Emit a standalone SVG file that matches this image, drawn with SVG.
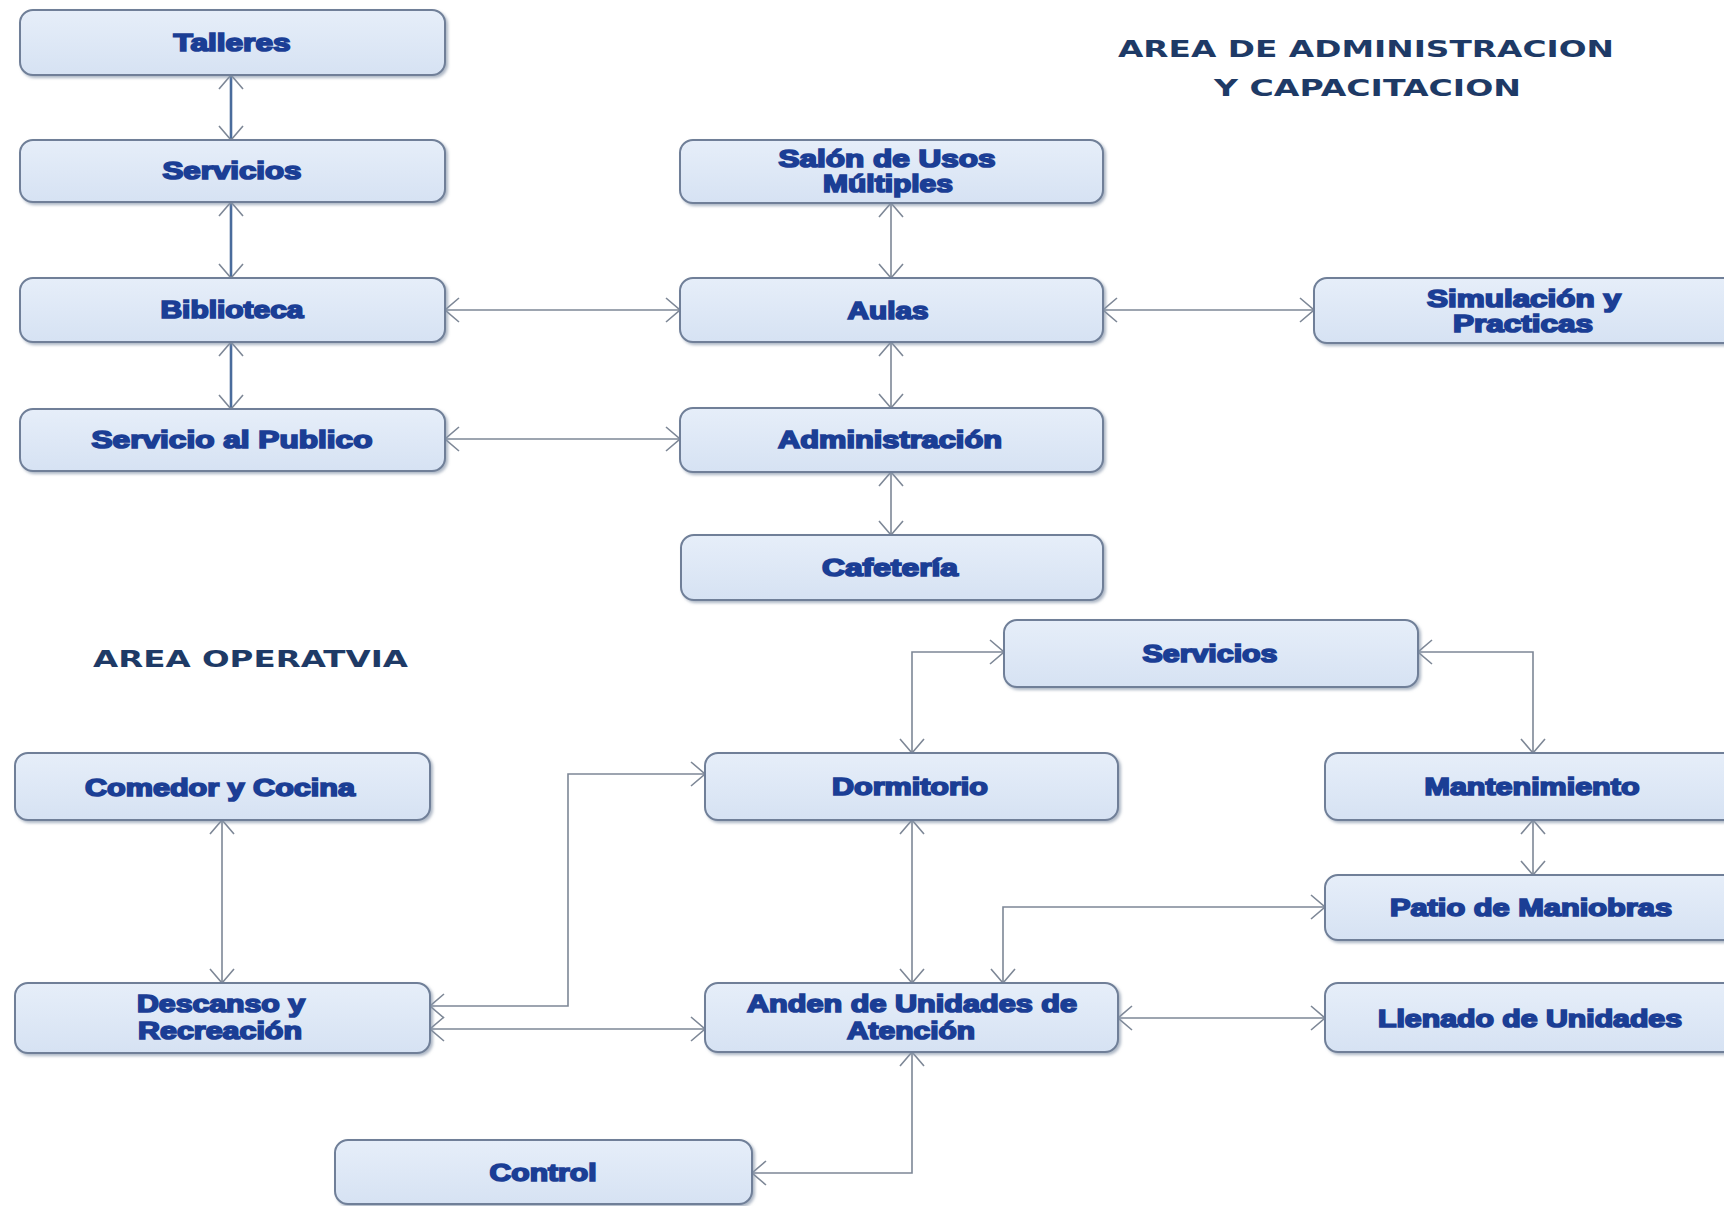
<svg xmlns="http://www.w3.org/2000/svg" width="1724" height="1206" viewBox="0 0 1724 1206">
<defs>
<style>
.box{fill:url(#g);stroke:#6f7f98;stroke-width:2;filter:url(#sh)}
.t{font-family:"Liberation Sans",Arial,sans-serif;font-weight:bold;font-size:24px;fill:#1b3e95;stroke:#1b3e95;stroke-width:1.7;text-anchor:middle}
.h{font-family:"DejaVu Sans",Verdana,sans-serif;font-weight:bold;font-size:23px;fill:#1e3a66}
.c{fill:none;stroke:#7d8796;stroke-width:1.6;marker-start:url(#a);marker-end:url(#a)}
.cb{fill:none;stroke:#4a6c9c;stroke-width:2.6;marker-start:url(#a);marker-end:url(#a)}
</style>
<linearGradient id="g" x1="0" y1="0" x2="0" y2="1">
<stop offset="0" stop-color="#e6eef9"/>
<stop offset="1" stop-color="#d6e2f3"/>
</linearGradient>
<filter id="sh" x="-5%" y="-20%" width="110%" height="150%">
<feDropShadow dx="2" dy="2" stdDeviation="1.5" flood-color="#8896ab" flood-opacity="0.7"/>
</filter>
<marker id="a" viewBox="0 0 16 28" refX="15" refY="14" markerWidth="16" markerHeight="28" markerUnits="userSpaceOnUse" orient="auto-start-reverse">
<path d="M1,2 L15,14 L1,26" fill="none" stroke="#7d8796" stroke-width="1.6"/>
</marker>
</defs>
<rect width="1724" height="1206" fill="#ffffff"/>

<g id="titles">
<text class="h" x="1118" y="57" textLength="496" lengthAdjust="spacingAndGlyphs">AREA DE ADMINISTRACION</text>
<text class="h" x="1214" y="96" textLength="307" lengthAdjust="spacingAndGlyphs">Y CAPACITACION</text>
<text class="h" x="93" y="667" textLength="315" lengthAdjust="spacingAndGlyphs">AREA OPERATVIA</text>
</g>

<g id="connectors">
<path class="cb" d="M231,75 V140"/>
<path class="cb" d="M231,202 V278"/>
<path class="cb" d="M231,342 V409"/>
<path class="c" d="M445,310 H680"/>
<path class="c" d="M445,439 H680"/>
<path class="c" d="M891,203 V278"/>
<path class="c" d="M891,342 V408"/>
<path class="c" d="M891,472 V535"/>
<path class="c" d="M1103,310 H1314"/>
<path class="c" d="M222,820 V983"/>
<path class="c" d="M430,1006 H568 V774 H705"/>
<path class="c" d="M430,1029 H705"/>
<path class="c" d="M1004,652 H912 V753"/>
<path class="c" d="M1418,652 H1533 V753"/>
<path class="c" d="M912,820 V983"/>
<path class="c" d="M1533,820 V875"/>
<path class="c" d="M1325,907 H1003 V983"/>
<path class="c" d="M1118,1018 H1325"/>
<path class="c" d="M752,1173 H912 V1052"/>
</g>

<g id="talleres"><rect class="box" x="20" y="10" width="425" height="65" rx="13"/><text class="t" x="232" y="51" textLength="117" lengthAdjust="spacingAndGlyphs">Talleres</text></g>
<g id="servicios-admin"><rect class="box" x="20" y="140" width="425" height="62" rx="13"/><text class="t" x="232" y="179" textLength="139" lengthAdjust="spacingAndGlyphs">Servicios</text></g>
<g id="biblioteca"><rect class="box" x="20" y="278" width="425" height="64" rx="13"/><text class="t" x="232" y="318" textLength="143" lengthAdjust="spacingAndGlyphs">Biblioteca</text></g>
<g id="servicio-publico"><rect class="box" x="20" y="409" width="425" height="62" rx="13"/><text class="t" x="232" y="448" textLength="281" lengthAdjust="spacingAndGlyphs">Servicio al Publico</text></g>

<g id="salon"><rect class="box" x="680" y="140" width="423" height="63" rx="13"/><text class="t" x="887" y="167" textLength="217" lengthAdjust="spacingAndGlyphs">Salón de Usos</text><text class="t" x="888" y="192" textLength="130" lengthAdjust="spacingAndGlyphs">Múltiples</text></g>
<g id="aulas"><rect class="box" x="680" y="278" width="423" height="64" rx="13"/><text class="t" x="888" y="319" textLength="81" lengthAdjust="spacingAndGlyphs">Aulas</text></g>
<g id="administracion"><rect class="box" x="680" y="408" width="423" height="64" rx="13"/><text class="t" x="890" y="448" textLength="224" lengthAdjust="spacingAndGlyphs">Administración</text></g>
<g id="cafeteria"><rect class="box" x="681" y="535" width="422" height="65" rx="13"/><text class="t" x="890" y="576" textLength="136" lengthAdjust="spacingAndGlyphs">Cafetería</text></g>
<g id="simulacion"><rect class="box" x="1314" y="278" width="430" height="65" rx="13"/><text class="t" x="1524" y="307" textLength="194" lengthAdjust="spacingAndGlyphs">Simulación  y</text><text class="t" x="1523" y="332" textLength="140" lengthAdjust="spacingAndGlyphs">Practicas</text></g>

<g id="comedor"><rect class="box" x="15" y="753" width="415" height="67" rx="13"/><text class="t" x="220" y="796" textLength="270" lengthAdjust="spacingAndGlyphs">Comedor  y Cocina</text></g>
<g id="descanso"><rect class="box" x="15" y="983" width="415" height="70" rx="13"/><text class="t" x="221" y="1012" textLength="168" lengthAdjust="spacingAndGlyphs">Descanso  y</text><text class="t" x="220" y="1039" textLength="164" lengthAdjust="spacingAndGlyphs">Recreación</text></g>
<g id="servicios-oper"><rect class="box" x="1004" y="620" width="414" height="67" rx="13"/><text class="t" x="1210" y="662" textLength="135" lengthAdjust="spacingAndGlyphs">Servicios</text></g>
<g id="dormitorio"><rect class="box" x="705" y="753" width="413" height="67" rx="13"/><text class="t" x="910" y="795" textLength="156" lengthAdjust="spacingAndGlyphs">Dormitorio</text></g>
<g id="mantenimiento"><rect class="box" x="1325" y="753" width="415" height="67" rx="13"/><text class="t" x="1532" y="795" textLength="215" lengthAdjust="spacingAndGlyphs">Mantenimiento</text></g>
<g id="patio"><rect class="box" x="1325" y="875" width="415" height="65" rx="13"/><text class="t" x="1531" y="916" textLength="282" lengthAdjust="spacingAndGlyphs">Patio de Maniobras</text></g>
<g id="anden"><rect class="box" x="705" y="983" width="413" height="69" rx="13"/><text class="t" x="912" y="1012" textLength="330" lengthAdjust="spacingAndGlyphs">Anden de Unidades  de</text><text class="t" x="911" y="1039" textLength="128" lengthAdjust="spacingAndGlyphs">Atención</text></g>
<g id="llenado"><rect class="box" x="1325" y="983" width="415" height="69" rx="13"/><text class="t" x="1530" y="1027" textLength="304" lengthAdjust="spacingAndGlyphs">Llenado de Unidades</text></g>
<g id="control"><rect class="box" x="335" y="1140" width="417" height="64" rx="13"/><text class="t" x="543" y="1181" textLength="107" lengthAdjust="spacingAndGlyphs">Control</text></g>
</svg>
